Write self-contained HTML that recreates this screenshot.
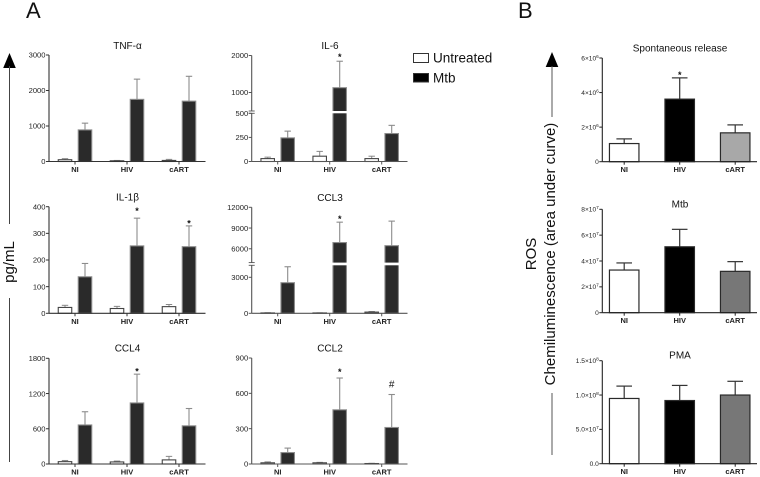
<!DOCTYPE html>
<html lang="en">
<head>
<meta charset="utf-8">
<title>Cytokine and ROS bar charts</title>
<style>
html,body{margin:0;padding:0;background:#fff;width:760px;height:477px;overflow:hidden}
svg{display:block;font-family:"Liberation Sans",sans-serif;filter:blur(0.35px)}
</style>
</head>
<body>
<svg id="fig" xmlns="http://www.w3.org/2000/svg" width="760" height="477" viewBox="0 0 760 477">
  <text x="26" y="18" font-size="22" fill="#111">A</text>
  <text x="518" y="18" font-size="22" fill="#111">B</text>

  <g>
    <polygon points="9.5,53 3.2,68 15.8,68" fill="#000"/>
    <line x1="9.5" y1="66" x2="9.5" y2="224" stroke="#444" stroke-width="1"/>
    <text transform="translate(14,262) rotate(-90)" text-anchor="middle" font-size="15" fill="#111">pg/mL</text>
    <line x1="9.5" y1="298" x2="9.5" y2="462" stroke="#444" stroke-width="1"/>
  </g>

  <g>
    <rect x="413.5" y="53.5" width="15" height="9" fill="#fff" stroke="#333" stroke-width="1"/>
    <text x="433" y="62.5" font-size="13.5" fill="#111">Untreated</text>
    <rect x="413.5" y="73.5" width="15" height="8.5" fill="#000" stroke="#333" stroke-width="1"/>
    <text x="433" y="82.5" font-size="13.5" fill="#111">Mtb</text>
  </g>

  <g>
    <polygon points="552,52 545.7,67 558.3,67" fill="#000"/>
    <line x1="552" y1="66" x2="552" y2="117" stroke="#555" stroke-width="1"/>
    <text transform="translate(536,254) rotate(-90)" text-anchor="middle" font-size="15" fill="#111">ROS</text>
    <text transform="translate(555,254) rotate(-90)" text-anchor="middle" font-size="15" fill="#111">Chemiluminescence (area under curve)</text>
    <line x1="552" y1="393" x2="552" y2="455" stroke="#555" stroke-width="1"/>
  </g>
  <g id="charts"></g>
</svg>

<script>
// ---- shared categories ----
const categories = ['NI', 'HIV', 'cART'];

// ---- panel A data ----
const tnfUntreated = [50, 20, 30];
const tnfUntreatedTop = [80, 30, 60];
const tnfMtb = [890, 1750, 1700];
const tnfMtbTop = [1080, 2320, 2400];
const tnfTicks = [0, 1000, 2000, 3000];
const tnfMarks = ['', '', ''];

const il6Untreated = [30, 55, 30];
const il6UntreatedTop = [45, 105, 55];
const il6Mtb = [245, 1130, 290];
const il6MtbTop = [315, 1845, 375];
const il6Ticks = [0, 250, 500, 1000, 2000];
const il6Marks = ['', '*', ''];

const il1bUntreated = [22, 18, 25];
const il1bUntreatedTop = [30, 26, 33];
const il1bMtb = [137, 253, 250];
const il1bMtbTop = [187, 357, 328];
const il1bTicks = [0, 100, 200, 300, 400];
const il1bMarks = ['', '*', '*'];

const ccl3Untreated = [30, 30, 100];
const ccl3UntreatedTop = [50, 40, 150];
const ccl3Mtb = [2550, 6900, 6450];
const ccl3MtbTop = [3880, 9850, 10000];
const ccl3Ticks = [0, 3000, 6000, 9000, 12000];
const ccl3Marks = ['', '*', ''];

const ccl4Untreated = [40, 35, 70];
const ccl4UntreatedTop = [60, 50, 130];
const ccl4Mtb = [665, 1040, 650];
const ccl4MtbTop = [890, 1530, 945];
const ccl4Ticks = [0, 600, 1200, 1800];
const ccl4Marks = ['', '*', ''];

const ccl2Untreated = [10, 10, 4];
const ccl2UntreatedTop = [18, 14, 6];
const ccl2Mtb = [97, 460, 310];
const ccl2MtbTop = [135, 730, 590];
const ccl2Ticks = [0, 300, 600, 900];
const ccl2Marks = ['', '*', '#'];

// ---- panel B data ----
const spontValues = [1.05e6, 3.62e6, 1.67e6];
const spontTop = [1.32e6, 4.85e6, 2.13e6];
const spontTicks = [0, 2e6, 4e6, 6e6];
const spontTickLabels = ['0', '2×10^6', '4×10^6', '6×10^6'];
const spontMarks = ['', '*', ''];

const mtbValues = [3.3e7, 5.1e7, 3.2e7];
const mtbTop = [3.85e7, 6.45e7, 3.95e7];
const mtbTicks = [0, 2e7, 4e7, 6e7, 8e7];
const mtbTickLabels = ['0', '2×10^7', '4×10^7', '6×10^7', '8×10^7'];
const mtbMarks = ['', '', ''];

const pmaValues = [0.95e8, 0.92e8, 1.0e8];
const pmaTop = [1.13e8, 1.14e8, 1.2e8];
const pmaTicks = [0, 5e7, 1e8, 1.5e8];
const pmaTickLabels = ['0.0', '5.0×10^7', '1.0×10^8', '1.5×10^8'];
const pmaMarks = ['', '', ''];

// ---- drawing ----
const NS = 'http://www.w3.org/2000/svg';
const root = document.getElementById('charts');

function make(parent, tag, attrs) {
  const el = document.createElementNS(NS, tag);
  for (const k in attrs) el.setAttribute(k, attrs[k]);
  parent.appendChild(el);
  return el;
}

// Linear y scale, optionally split by an axis break.
function makeYScale(p, maxValue) {
  if (!p.broken) {
    return v => p.bottom - (v / maxValue) * (p.bottom - p.top);
  }
  return v => v <= p.broken.value
    ? p.bottom - (v / p.broken.value) * (p.bottom - p.broken.lowerPx)
    : p.broken.upperPx - ((v - p.broken.value) / (maxValue - p.broken.value)) * (p.broken.upperPx - p.top);
}

function groupX(p, i) {
  return p.firstCenter + i * p.spacing;
}

function drawBar(g, p, y, cx, value, top, st, kind) {
  const x0 = cx - p.barWidth / 2;
  const yVal = y(value);
  const yTop = y(top);
  const err = make(g, 'line', {x1: cx, x2: cx, y1: yVal, y2: yTop, stroke: st.errorColor, 'stroke-width': st.errorWidth});
  
  
  const cap = make(g, 'line', {x1: cx - p.capHalf, x2: cx + p.capHalf, y1: yTop, y2: yTop, stroke: st.errorColor, 'stroke-width': st.errorWidth});
  
  
  const bar = make(g, 'rect', {x: x0, y: yVal, width: p.barWidth, height: Math.max(0, p.bottom - yVal), fill: st.fill, stroke: st.stroke, 'stroke-width': p.barStroke});
  
  
  if (p.broken && value > p.broken.value) {
    const gap = make(g, 'rect', {x: x0 - 1, y: p.broken.upperPx, width: p.barWidth + 2, height: p.broken.lowerPx - p.broken.upperPx, fill: '#fff'});
    
    
  }
}

function drawTickLabel(parent, x, y, label, size) {
  const t = make(parent, 'text', {x: x, y: y + size * 0.36, 'text-anchor': 'end', 'font-size': size, fill: '#222'});
  
  
  const parts = String(label).split('^');
  t.appendChild(document.createTextNode(parts[0]));
  if (parts[1]) {
    const sup = make(t, 'tspan', {dy: -2.5, 'font-size': size * 0.72});
    sup.textContent = parts[1];
  }
}

function drawPanel(p) {
  const g = make(root, 'g', {});
  
  

  const maxTick = p.ticks[p.ticks.length - 1];
  const y = makeYScale(p, maxTick);

  const title = make(g, 'text', {x: p.titleX, y: p.titleY, 'text-anchor': 'middle', 'font-size': 10, fill: '#111'});
  
  
  title.textContent = p.title;

  // bars
  categories.forEach((cat, i) => {
    const c = groupX(p, i);
    if (p.series.length === 2) {
      drawBar(g, p, y, c - p.barOffset, p.series[0].values[i], p.series[0].tops[i], p.series[0].style, 'untreated-' + cat.toLowerCase());
      drawBar(g, p, y, c + p.barOffset, p.series[1].values[i], p.series[1].tops[i], p.series[1].style, 'mtb-' + cat.toLowerCase());
    } else {
      const st = {fill: p.fills[i], stroke: '#2a2a2a', errorColor: '#333', errorWidth: 1.2};
      drawBar(g, p, y, c, p.series[0].values[i], p.series[0].tops[i], st, p.name + '-' + cat.toLowerCase());
    }
    const mark = p.marks[i];
    if (mark) {
      const last = p.series[p.series.length - 1];
      const mx = p.series.length === 2 ? c + p.barOffset : c;
      const isHash = mark === '#';
      const m = make(g, 'text', {x: mx, y: y(last.tops[i]) - (p.markGaps[i] || 5) + (isHash ? 0 : 5), 'text-anchor': 'middle', 'font-size': isHash ? 10 : 9, 'font-weight': isHash ? 'normal' : 'bold', fill: '#111'});
      
      
      m.textContent = mark;
    }
    const tick = make(g, 'line', {x1: c, x2: c, y1: p.bottom, y2: p.bottom + 3, stroke: p.axisColor, 'stroke-width': 1});
    
    
    const lab = make(g, 'text', {x: c, y: p.bottom + 10.5, 'text-anchor': 'middle', 'font-size': 7.5, 'font-weight': 'bold', fill: '#222'});
    
    
    lab.textContent = cat;
  });

  // axes
  const xAxis = make(g, 'line', {x1: p.axisX, x2: p.xEnd, y1: p.bottom, y2: p.bottom, stroke: p.axisColor, 'stroke-width': 1.1});
  
  
  if (p.broken) {
    const yUpper = make(g, 'line', {x1: p.axisX, x2: p.axisX, y1: p.top, y2: p.broken.upperPx, stroke: p.axisColor, 'stroke-width': 1.1});
    
    
    const yLower = make(g, 'line', {x1: p.axisX, x2: p.axisX, y1: p.broken.lowerPx, y2: p.bottom, stroke: p.axisColor, 'stroke-width': 1.1});
    
    
    [p.broken.upperPx, p.broken.lowerPx].forEach(py => {
      const b = make(g, 'line', {x1: p.axisX - 3, x2: p.axisX + 3, y1: py, y2: py, stroke: p.axisColor, 'stroke-width': 0.9});
      
      
    });
  } else {
    const yAxis = make(g, 'line', {x1: p.axisX, x2: p.axisX, y1: p.top, y2: p.bottom, stroke: p.axisColor, 'stroke-width': 1.1});
    
    
  }
  p.ticks.forEach((v, i) => {
    const py = y(v);
    const t = make(g, 'line', {x1: p.axisX - 3, x2: p.axisX, y1: py, y2: py, stroke: p.axisColor, 'stroke-width': 1});
    
    
    drawTickLabel(g, p.axisX - 3.5, py, p.tickLabels ? p.tickLabels[i] : v, p.tickSize);
  });
}

const untreatedStyle = {fill: '#fff', stroke: '#444', errorColor: '#888', errorWidth: 1};
const mtbStyle = {fill: '#2a2a2a', stroke: '#8c8c8c', errorColor: '#8c8c8c', errorWidth: 1.1};

function panelA(name, title, col, top, bottom, titleY, ticks, marks, u, uTop, m, mTop, markGaps, broken) {
  const left = col === 0;
  drawPanel({
    name, title, ticks, marks, markGaps, broken, top, bottom, titleY,
    titleX: left ? 127.5 : 330,
    axisX: left ? 49 : 251.7,
    xEnd: left ? 205.5 : 407.5,
    firstCenter: left ? 75 : 277.7,
    spacing: 52,
    barOffset: 10,
    barWidth: 13.5,
    capHalf: 3.2,
    barStroke: 1.1,
    tickSize: 7.6,
    axisColor: left ? '#333' : '#555',
    series: [
      {values: u, tops: uTop, style: untreatedStyle},
      {values: m, tops: mTop, style: mtbStyle}
    ]
  });
}

function panelB(name, title, top, bottom, titleY, ticks, tickLabels, marks, values, tops, fills) {
  drawPanel({
    name, title, ticks, tickLabels, marks, markGaps: [0, 5, 0], top, bottom, titleY,
    titleX: 680,
    axisX: 602.3,
    xEnd: 757,
    firstCenter: 624.2,
    spacing: 55.5,
    barWidth: 29.5,
    capHalf: 7.8,
    barStroke: 1.2,
    tickSize: 6.6,
    axisColor: '#222',
    fills,
    series: [{values, tops}]
  });
}

panelA('tnf-alpha', 'TNF-α', 0, 55, 161.5, 49, tnfTicks, tnfMarks, tnfUntreated, tnfUntreatedTop, tnfMtb, tnfMtbTop, [0, 0, 0]);
panelA('il-6', 'IL-6', 1, 55.5, 161.5, 49, il6Ticks, il6Marks, il6Untreated, il6UntreatedTop, il6Mtb, il6MtbTop, [0, 6, 0], {value: il6Ticks[2], lowerPx: 113.3, upperPx: 111});
panelA('il-1-beta', 'IL-1β', 0, 206.7, 313.3, 200.7, il1bTicks, il1bMarks, il1bUntreated, il1bUntreatedTop, il1bMtb, il1bMtbTop, [0, 9, 4.5]);
panelA('ccl3', 'CCL3', 1, 207.3, 313.3, 201, ccl3Ticks, ccl3Marks, ccl3Untreated, ccl3UntreatedTop, ccl3Mtb, ccl3MtbTop, [0, 5, 0], {value: 4000, lowerPx: 265.3, upperPx: 262.6});
panelA('ccl4', 'CCL4', 0, 358.3, 464, 351.7, ccl4Ticks, ccl4Marks, ccl4Untreated, ccl4UntreatedTop, ccl4Mtb, ccl4MtbTop, [0, 4.5, 0]);
panelA('ccl2', 'CCL2', 1, 358, 464, 351.7, ccl2Ticks, ccl2Marks, ccl2Untreated, ccl2UntreatedTop, ccl2Mtb, ccl2MtbTop, [0, 8, 7]);

panelB('spontaneous-release', 'Spontaneous release', 58, 161.7, 51.7, spontTicks, spontTickLabels, spontMarks, spontValues, spontTop, ['#fff', '#000', '#a8a8a8']);
panelB('mtb', 'Mtb', 209.3, 312.7, 207.3, mtbTicks, mtbTickLabels, mtbMarks, mtbValues, mtbTop, ['#fff', '#000', '#777']);
panelB('pma', 'PMA', 360.7, 463.7, 358.7, pmaTicks, pmaTickLabels, pmaMarks, pmaValues, pmaTop, ['#fff', '#000', '#777']);
</script>
</body>
</html>
